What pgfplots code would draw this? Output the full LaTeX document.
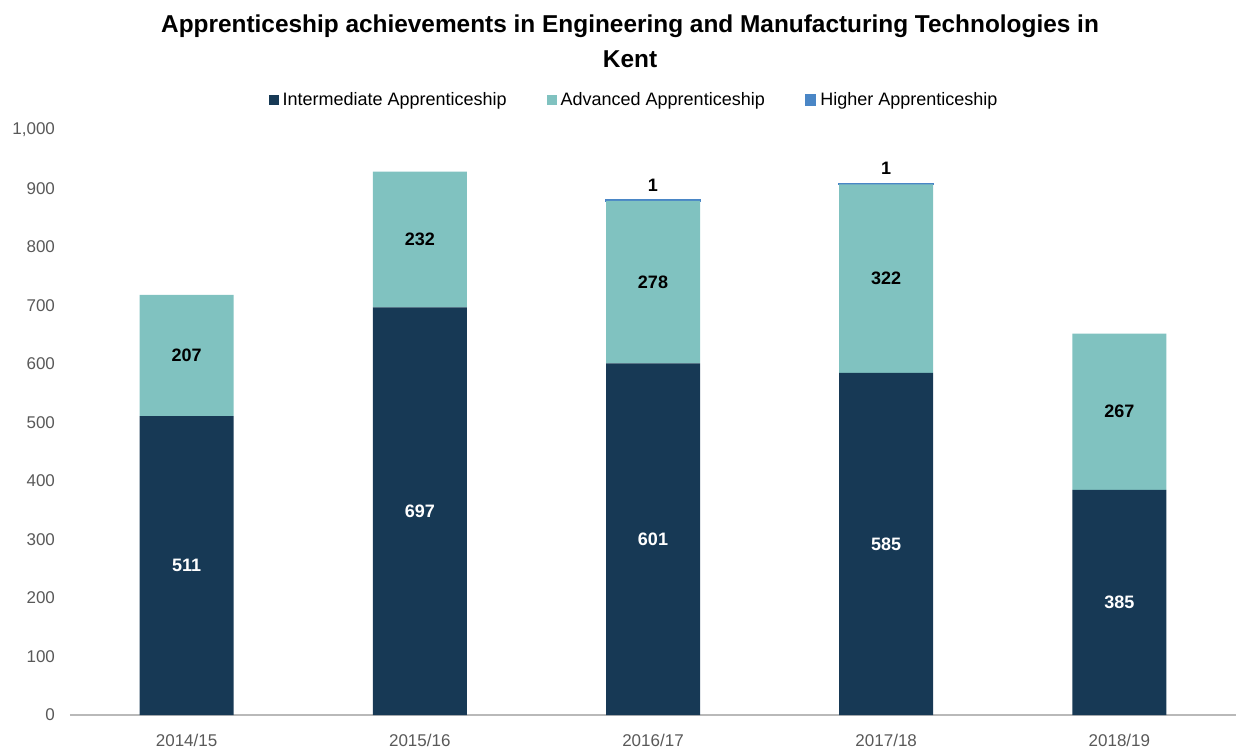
\documentclass[border=0pt]{standalone}
\usepackage{pgfplots}
\pgfplotsset{compat=1.18}
\usepackage{fontspec}
\setmainfont{Liberation Sans}

\definecolor{interm}{RGB}{23,57,85}
\definecolor{advanced}{RGB}{128,194,192}
\definecolor{higher}{RGB}{74,134,198}
\definecolor{ticktext}{RGB}{89,89,89}

\begin{document}
\begin{tikzpicture}
\path[use as bounding box] (-35pt,-17pt) rectangle (583pt,357.5pt);
\begin{axis}[
    scale only axis,
    width=583pt, height=292.5pt,
    ybar stacked,
    bar width=47pt,
    xmin=-0.5, xmax=4.5,
    ymin=0, ymax=1000,
    xtick=data,
    xticklabels={2014/15, 2015/16, 2016/17, 2017/18, 2018/19},
    ytick={0,100,...,1000},
    /pgf/number format/.cd, 1000 sep={,}, assume math mode=true,
    /pgfplots/.cd,
    axis lines*=left,
    y axis line style={draw=none},
    x axis line style={draw=gray!55, line width=0.6pt},
    major tick length=0pt,
    tick label style={font=\fontsize{8.5}{10}\selectfont, text=ticktext},
    xticklabel style={yshift=-6pt},
    yticklabel style={xshift=-4pt},
    title={Apprenticeship achievements in Engineering and Manufacturing Technologies in\\Kent},
    title style={font={\bfseries\fontsize{12.2}{17.5}\selectfont}, align=center,
        at={(0.4803,1)}, anchor=south, yshift=21.5pt},
    legend columns=-1,
    legend style={draw=none, font=\fontsize{9}{11}\selectfont,
        at={(0.4846,1.0513)}, anchor=center,
        /tikz/every even column/.append style={column sep=18pt}},
    legend image code/.code={\fill[#1] (0pt,-2.5pt) rectangle (5pt,2.5pt);},
    nodes near coords style={font=\bfseries\fontsize{9}{11}\selectfont},
]
\addplot+[fill=interm, draw=none,
    nodes near coords,
    every node near coord/.append style={text=white, anchor=center}]
    coordinates {(0,511) (1,697) (2,601) (3,585) (4,385)};
\addlegendentry{Intermediate Apprenticeship}
\addplot+[fill=advanced, draw=none,
    nodes near coords,
    every node near coord/.append style={text=black, anchor=center}]
    coordinates {(0,207) (1,232) (2,278) (3,322) (4,267)};
\addlegendentry{Advanced Apprenticeship}
\addplot+[fill=higher, draw=higher, line width=0.8pt,
    nodes near coords={\pgfmathfloatifflags{\pgfplotspointmeta}{0}{}{\pgfmathprintnumber{\pgfplotspointmeta}}},
    every node near coord/.append style={text=black, anchor=south, yshift=1pt}]
    coordinates {(0,0) (1,0) (2,1) (3,1) (4,0)};
\addlegendentry{Higher Apprenticeship}
\end{axis}
\end{tikzpicture}
\end{document}
